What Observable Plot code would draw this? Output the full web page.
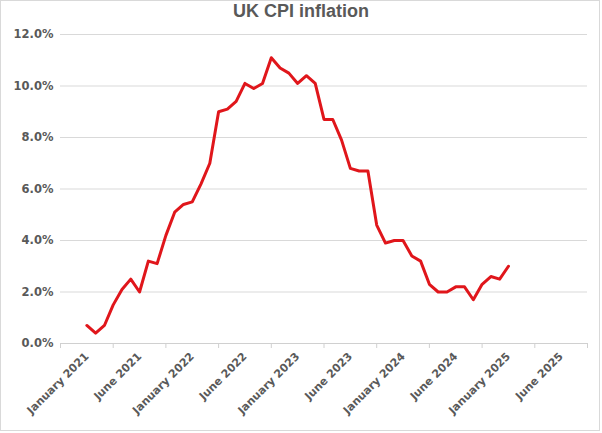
<!DOCTYPE html>
<html>
<head>
<meta charset="utf-8">
<script src="https://cdn.jsdelivr.net/npm/d3@7"></script>
<script src="https://cdn.jsdelivr.net/npm/@observablehq/plot@0.6"></script>
<style>
  html, body { margin: 0; padding: 0; background: #fff; }
  #box { width: 598px; height: 429px; border: 1px solid #d9d9d9; background: #fff; overflow: hidden; }
  #title { height: 23px; line-height: 20px; text-align: center; font-family: "Liberation Sans", Arial, sans-serif; font-weight: bold; font-size: 18px; color: #595959; padding-left: 2px; }
</style>
</head>
<body>
<div id="box">
  <div id="title">UK CPI inflation</div>
  <div id="chart"></div>
</div>
<script>
// Monthly UK CPI inflation (%), January 2021 to January 2025
const months = [
  "2021-01","2021-02","2021-03","2021-04","2021-05","2021-06","2021-07","2021-08","2021-09","2021-10","2021-11","2021-12",
  "2022-01","2022-02","2022-03","2022-04","2022-05","2022-06","2022-07","2022-08","2022-09","2022-10","2022-11","2022-12",
  "2023-01","2023-02","2023-03","2023-04","2023-05","2023-06","2023-07","2023-08","2023-09","2023-10","2023-11","2023-12",
  "2024-01","2024-02","2024-03","2024-04","2024-05","2024-06","2024-07","2024-08","2024-09","2024-10","2024-11","2024-12",
  "2025-01"
];
const cpi = [
  0.7, 0.4, 0.7, 1.5, 2.1, 2.5, 2.0, 3.2, 3.1, 4.2, 5.1, 5.4,
  5.5, 6.2, 7.0, 9.0, 9.1, 9.4, 10.1, 9.9, 10.1, 11.1, 10.7, 10.5,
  10.1, 10.4, 10.1, 8.7, 8.7, 7.9, 6.8, 6.7, 6.7, 4.6, 3.9, 4.0,
  4.0, 3.4, 3.2, 2.3, 2.0, 2.0, 2.2, 2.2, 1.7, 2.3, 2.6, 2.5,
  3.0
];
// Category-axis labels (one every six months) and their month index
const tickLabels = ["January 2021","June 2021","January 2022","June 2022","January 2023",
                    "June 2023","January 2024","June 2024","January 2025","June 2025"];
const labelIndex = [0, 6, 12, 18, 24, 30, 36, 42, 48, 54];
const tickMarks = [-3, 3, 9, 15, 21, 27, 33, 39, 45, 51, 57];
const yTicks = [0, 2, 4, 6, 8, 10, 12];

const data = cpi.map((v, i) => ({i, month: months[i], value: v}));
const labelOf = new Map(labelIndex.map((k, j) => [k, tickLabels[j]]));

const chart = Plot.plot({
  width: 598,
  height: 405,
  marginTop: 10,
  marginLeft: 59,
  marginRight: 12,
  marginBottom: 86,
  style: {fontFamily: "DejaVu Sans, Verdana, sans-serif", fontWeight: "bold", color: "#595959", background: "#fff"},
  x: {domain: [-3, 57], axis: null},
  y: {domain: [0, 12], axis: null},
  marks: [
    Plot.gridY(yTicks.filter(d => d > 0), {stroke: "#d9d9d9", strokeOpacity: 1, strokeWidth: 1}),
    Plot.ruleY([0], {stroke: "#d0d0d0", strokeWidth: 1}),
    Plot.axisY(yTicks, {label: null, tickSize: 0, tickPadding: 7, tickFormat: d => d.toFixed(1) + "%", fontSize: 11.5, fill: "#595959"}),
    Plot.axisX(tickMarks, {label: null, tickSize: 5, stroke: "#d0d0d0", tickFormat: () => ""}),
    Plot.axisX(labelIndex, {label: null, tickSize: 0, tickPadding: 11, tickRotate: -45, tickFormat: d => labelOf.get(d), fontSize: 11, fill: "#595959"}),
    Plot.line(data, {x: "i", y: "value", stroke: "#e0161b", strokeWidth: 3, strokeLinejoin: "round", strokeLinecap: "round"})
  ]
});
document.getElementById("chart").appendChild(chart);
</script>
</body>
</html>
